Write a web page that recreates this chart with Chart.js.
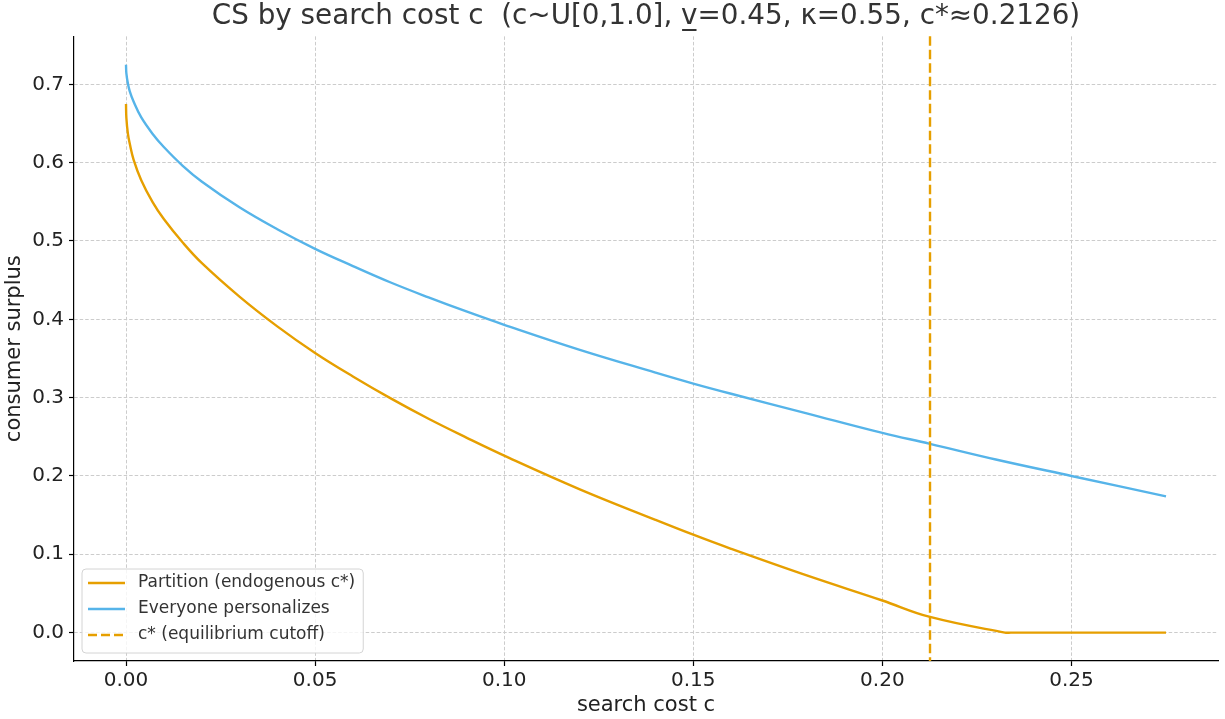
<!DOCTYPE html>
<html>
<head>
<meta charset="utf-8">
<title>CS by search cost</title>
<script src="https://cdn.jsdelivr.net/npm/chart.js@4.4.1/dist/chart.umd.min.js"></script>
<style>
  html, body { margin: 0; padding: 0; background: #fff; }
  #wrap { width: 1225px; height: 719px; }
</style>
</head>
<body>
<div id="wrap"><canvas id="chart" width="1225" height="719"></canvas></div>
<script>
// values
const cPartition = [0, 0.0001, 0.0005, 0.001, 0.002, 0.004, 0.007, 0.01, 0.015, 0.02, 0.03, 0.04, 0.05, 0.06, 0.07, 0.08, 0.09, 0.10, 0.12, 0.14, 0.15, 0.16, 0.18, 0.20, 0.2126, 0.2324, 0.234, 0.275]
const csPartition = [0.675, 0.657, 0.637, 0.624, 0.604, 0.578, 0.550, 0.528, 0.498, 0.472, 0.429, 0.391, 0.357, 0.327, 0.299, 0.273, 0.249, 0.226, 0.183, 0.144, 0.125, 0.107, 0.073, 0.041, 0.020, 0.0, 0.0, 0.0]

const cPersonal = [0, 0.0001, 0.0005, 0.001, 0.002, 0.004, 0.007, 0.01, 0.015, 0.02, 0.03, 0.04, 0.05, 0.06, 0.07, 0.08, 0.09, 0.10, 0.12, 0.14, 0.15, 0.16, 0.18, 0.20, 0.2126, 0.23, 0.25, 0.275]
const csPersonal = [0.725, 0.714, 0.701, 0.691, 0.678, 0.658, 0.637, 0.620, 0.596, 0.576, 0.543, 0.515, 0.490, 0.468, 0.447, 0.428, 0.410, 0.393, 0.361, 0.332, 0.318, 0.305, 0.280, 0.255, 0.241, 0.221, 0.200, 0.174]

const cStar = 0.2126
const xTicks = [0, 0.05, 0.10, 0.15, 0.20, 0.25]
const yTicks = [0, 0.1, 0.2, 0.3, 0.4, 0.5, 0.6, 0.7]

const orange = '#E69F00'
const blue = '#56B4E9'

const legendItems = [
    { label: 'Partition (endogenous c*)', color: orange, dash: [] },
    { label: 'Everyone personalizes', color: blue, dash: [] },
    { label: 'c* (equilibrium cutoff)', color: orange, dash: [9, 4] }
]

Chart.defaults.font.family = "'DejaVu Sans', sans-serif"
Chart.defaults.color = '#222'

const toPoints = (xs, ys) => xs.map((x, i) => ({ x: x, y: ys[i] }))

// c* cutoff line, drawn through the x scale
const cutoffLine = {
    id: 'cutoffLine',
    afterDatasetsDraw(chart) {
        const { ctx, chartArea } = chart
        const px = chart.scales.x.getPixelForValue(cStar)
        ctx.save()
        ctx.strokeStyle = orange
        ctx.lineWidth = 2.4
        ctx.setLineDash([9.5, 4])
        ctx.beginPath()
        ctx.moveTo(px, chartArea.top)
        ctx.lineTo(px, chartArea.bottom)
        ctx.stroke()
        ctx.restore()
    }
}

// legend box in the lower left of the plot
const boxLegend = {
    id: 'boxLegend',
    afterDraw(chart) {
        const { ctx, chartArea } = chart
        ctx.save()
        ctx.font = "17px 'DejaVu Sans'"
        let maxW = 0
        legendItems.forEach(it => { maxW = Math.max(maxW, ctx.measureText(it.label).width) })
        const w = 56 + maxW + 8
        const h = 84
        const x0 = chartArea.left + 8
        const y0 = chartArea.bottom - 8 - h
        ctx.beginPath()
        ctx.roundRect(x0, y0, w, h, 4)
        ctx.fillStyle = 'rgba(255,255,255,0.8)'
        ctx.fill()
        ctx.strokeStyle = '#d4d4d4'
        ctx.lineWidth = 1
        ctx.stroke()
        legendItems.forEach((it, i) => {
            const yy = y0 + 14 + i * 26
            ctx.strokeStyle = it.color
            ctx.lineWidth = 2.4
            ctx.setLineDash(it.dash)
            ctx.beginPath()
            ctx.moveTo(x0 + 6, yy)
            ctx.lineTo(x0 + 43, yy)
            ctx.stroke()
            ctx.setLineDash([])
            ctx.fillStyle = '#333'
            ctx.textBaseline = 'middle'
            ctx.textAlign = 'left'
            ctx.fillText(it.label, x0 + 56, yy)
        })
        ctx.restore()
    }
}

const gridStyle = {
    color: '#cccccc',
    lineWidth: 1,
    tickColor: '#000',
    tickWidth: 1.2,
    tickBorderDash: [],
    tickLength: 5
}
// in v4 border.dash sets the dash of the grid lines
const borderStyle = { display: true, color: '#000', width: 1.2, dash: [3.5, 2] }

const ctx = document.getElementById('chart').getContext('2d')
const chart = new Chart(ctx, {
    type: 'line',
    data: {
        datasets: [{
            label: 'Partition (endogenous c*)',
            data: toPoints(cPartition, csPartition),
            borderColor: orange,
            borderWidth: 2.4,
            pointRadius: 0,
            tension: 0.4,
            fill: false
        }, {
            label: 'Everyone personalizes',
            data: toPoints(cPersonal, csPersonal),
            borderColor: blue,
            borderWidth: 2.4,
            pointRadius: 0,
            tension: 0.4,
            fill: false
        }]
    },
    options: {
        responsive: false,
        animation: false,
        layout: { padding: { left: 0, right: 7, top: 0, bottom: 0 } },
        plugins: {
            legend: { display: false },
            tooltip: { enabled: false },
            title: {
                display: true,
                fullSize: false,
                text: 'CS by search cost c  (c~U[0,1.0], v\u0332=0.45, \u03ba=0.55, c*\u22480.2126)',
                color: '#333',
                font: { size: 27.8, weight: 'normal' },
                padding: { top: 0, bottom: 3 }
            }
        },
        scales: {
            x: {
                type: 'linear',
                min: -0.01375,
                max: 0.28875,
                afterFit: s => { s.height = 58 },
                afterBuildTicks: s => { s.ticks = xTicks.map(v => ({ value: v })) },
                ticks: {
                    font: { size: 20 },
                    padding: 3,
                    maxRotation: 0,
                    callback: v => Number(v).toFixed(2)
                },
                grid: gridStyle,
                border: borderStyle,
                title: {
                    display: true,
                    text: 'search cost c',
                    font: { size: 21 },
                    padding: { top: 0, bottom: 1 }
                }
            },
            y: {
                type: 'linear',
                min: -0.03625,
                max: 0.76125,
                afterFit: s => { s.width = 74 },
                afterBuildTicks: s => { s.ticks = yTicks.map(v => ({ value: v })) },
                ticks: {
                    font: { size: 20 },
                    padding: 5,
                    callback: v => Number(v).toFixed(1)
                },
                grid: gridStyle,
                border: borderStyle,
                title: {
                    display: true,
                    text: 'consumer surplus',
                    font: { size: 21 },
                    padding: { top: 2, bottom: 0 }
                }
            }
        }
    },
    plugins: [cutoffLine, boxLegend]
})
</script>
</body>
</html>
